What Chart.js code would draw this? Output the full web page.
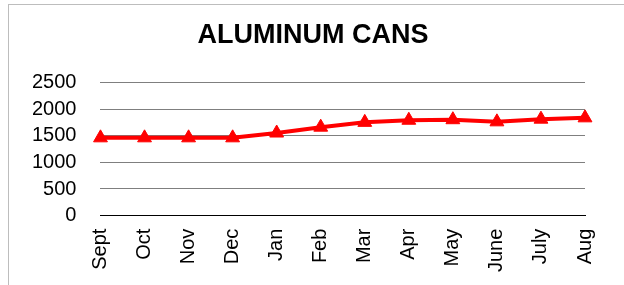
<!DOCTYPE html>
<html lang="en">
<head>
    <meta charset="utf-8">
    <title>Aluminum Cans</title>
    <script src="https://cdn.jsdelivr.net/npm/chart.js@4.4.0/dist/chart.umd.min.js"></script>
    <style>
        body { margin: 0; background: #fff; }
        .frame { position: absolute; left: 8px; top: 4px; width: 700px; height: 400px;
                 border-left: 1px solid #bdbdbd; border-top: 1px solid #bdbdbd; }
        .wrap { position: absolute; left: 0; top: 0; width: 624px; height: 285px; }
    </style>
</head>
<body>
<div class="frame"></div>
<div class="wrap">
    <canvas id="lineChart" width="624" height="285"></canvas>
</div>
<script>
    const months = ['Sept', 'Oct', 'Nov', 'Dec', 'Jan', 'Feb', 'Mar', 'Apr', 'May', 'June', 'July', 'Aug'];
    const cans = [1460, 1460, 1460, 1460, 1550, 1660, 1750, 1790, 1800, 1760, 1810, 1835];
    const yTicks = [0, 500, 1000, 1500, 2000, 2500];

    const font = 'Liberation Sans, Arial, sans-serif';

    let ctx = document.getElementById('lineChart').getContext('2d');
    new Chart(ctx, {
        type: 'line',
        data: {
            labels: months,
            datasets: [{
                label: 'Aluminum Cans',
                data: cans,
                borderColor: '#ff0000',
                backgroundColor: '#ff0000',
                borderWidth: 4,
                pointStyle: 'triangle',
                pointRadius: 8,
                pointBorderWidth: 1,
                tension: 0
            }]
        },
        options: {
            responsive: false,
            animation: false,
            layout: { padding: { left: 8, right: 6, top: 8, bottom: 0 } },
            plugins: {
                legend: { display: false },
                tooltip: { enabled: false },
                title: {
                    display: true,
                    text: 'ALUMINUM CANS',
                    color: '#000',
                    font: { family: font, size: 27, weight: 'bold' },
                    padding: { top: 11, bottom: 31 }
                }
            },
            scales: {
                x: {
                    offset: false,
                    grid: { display: false, drawTicks: false },
                    border: { display: true, color: '#000', width: 1 },
                    // keep room on the right for the last point, like the original
                    afterFit: (s) => { s.paddingRight = 39; },
                    ticks: {
                        color: '#000',
                        font: { family: font, size: 20 },
                        minRotation: 90,
                        maxRotation: 90,
                        padding: 13,
                        autoSkip: false
                    }
                },
                y: {
                    min: yTicks[0],
                    max: yTicks[yTicks.length - 1],
                    grid: { color: '#7f7f7f', lineWidth: 1, drawTicks: false },
                    border: { display: false },
                    afterBuildTicks: (axis) => { axis.ticks = yTicks.map(v => ({ value: v })); },
                    ticks: {
                        color: '#000',
                        font: { family: font, size: 20 },
                        padding: 24,
                        autoSkip: false,
                        callback: (v) => String(v)
                    }
                }
            }
        }
    });
</script>
</body>
</html>
